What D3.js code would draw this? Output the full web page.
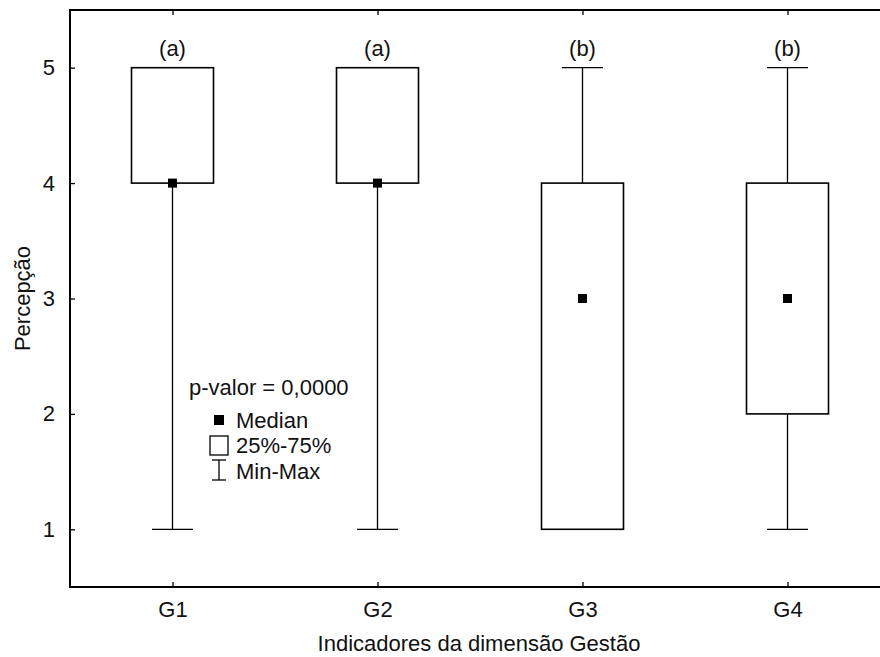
<!DOCTYPE html>
<html>
<head>
<meta charset="utf-8">
<script src="https://cdn.jsdelivr.net/npm/d3@7"></script>
<style>
  body { margin: 0; background: #fff; }
  svg { display: block; }
  text { font-family: "Liberation Sans", Arial, sans-serif; fill: #111; }
</style>
</head>
<body>
<div id="root"></div>
<script>
// data
const groups = ["G1", "G2", "G3", "G4"];
const minVals = [1, 1, 1, 1];
const q1Vals = [4, 4, 1, 2];
const medianVals = [4, 4, 3, 3];
const q3Vals = [5, 5, 4, 4];
const maxVals = [5, 5, 5, 5];
const letters = ["(a)", "(a)", "(b)", "(b)"];
const yTicks = [1, 2, 3, 4, 5];

const W = 880, H = 657;
const margin = { top: 10, right: -10, bottom: 70, left: 70 };
const width = W - margin.left - margin.right;
const height = H - margin.top - margin.bottom;
const fs = 22;

const svg = d3.select("#root").append("svg")
  .attr("width", W)
  .attr("height", H);

const g = svg.append("g")
  .attr("transform", "translate(" + margin.left + "," + margin.top + ")");

const x = d3.scalePoint()
  .domain(groups)
  .range([0, width])
  .padding(0.5);

const y = d3.scaleLinear()
  .domain([0.5, 5.5])
  .range([height, 0]);

const boxW = 82, capW = 41, medSize = 9;

const data = groups.map((name, i) => ({
  name,
  min: minVals[i], q1: q1Vals[i], med: medianVals[i], q3: q3Vals[i], max: maxVals[i],
  letter: letters[i]
}));

// axes with inward ticks
const yAxis = g.append("g")
  .call(d3.axisLeft(y).tickValues(yTicks).tickSize(-5).tickPadding(15).tickFormat(d3.format("d")));
const xAxis = g.append("g")
  .attr("transform", "translate(0," + height + ")")
  .call(d3.axisBottom(x).tickSize(-5).tickPadding(14));
const topAxis = g.append("g")
  .call(d3.axisTop(x).tickSize(-5).tickFormat(""));

[yAxis, xAxis, topAxis].forEach(a => {
  a.select(".domain").remove();
  a.selectAll("line").attr("stroke", "#000").attr("stroke-width", 1.3);
  a.selectAll("text").attr("font-size", fs).attr("fill", "#111")
    .attr("font-family", '"Liberation Sans", Arial, sans-serif');
});

// frame
g.append("rect")
  .attr("x", 0).attr("y", 0)
  .attr("width", width).attr("height", height)
  .attr("fill", "none").attr("stroke", "#000").attr("stroke-width", 2);

const box = g.selectAll(".box").data(data).enter().append("g")
  .attr("class", "box")
  .attr("transform", d => "translate(" + x(d.name) + ",0)");

// whiskers
box.append("line")
  .attr("x1", 0).attr("x2", 0)
  .attr("y1", d => y(d.max)).attr("y2", d => y(d.min))
  .attr("stroke", "#000").attr("stroke-width", 1.3);
box.append("line")
  .attr("x1", -capW / 2).attr("x2", capW / 2)
  .attr("y1", d => y(d.max)).attr("y2", d => y(d.max))
  .attr("stroke", "#000").attr("stroke-width", 1.3);
box.append("line")
  .attr("x1", -capW / 2).attr("x2", capW / 2)
  .attr("y1", d => y(d.min)).attr("y2", d => y(d.min))
  .attr("stroke", "#000").attr("stroke-width", 1.3);

box.append("rect")
  .attr("x", -boxW / 2).attr("width", boxW)
  .attr("y", d => y(d.q3)).attr("height", d => y(d.q1) - y(d.q3))
  .attr("fill", "#fff").attr("stroke", "#000").attr("stroke-width", 1.6);

box.append("rect")
  .attr("x", -medSize / 2).attr("width", medSize)
  .attr("y", d => y(d.med) - medSize / 2).attr("height", medSize)
  .attr("fill", "#000");

box.append("text")
  .attr("x", 0).attr("y", d => y(d.max) - 12)
  .attr("text-anchor", "middle")
  .attr("font-size", fs)
  .text(d => d.letter);

// axis titles
svg.append("text")
  .attr("x", 479).attr("y", 651)
  .attr("text-anchor", "middle")
  .attr("font-size", fs)
  .text("Indicadores da dimensão Gestão");
svg.append("text")
  .attr("transform", "translate(30," + (margin.top + height / 2) + ") rotate(-90)")
  .attr("text-anchor", "middle")
  .attr("font-size", fs)
  .text("Percepção");

// legend
const lg = svg.append("g");
lg.append("text").attr("x", 189).attr("y", 395).attr("font-size", fs).text("p-valor = 0,0000");
lg.append("rect").attr("x", 214).attr("y", 415).attr("width", 10).attr("height", 10).attr("fill", "#000");
lg.append("text").attr("x", 236).attr("y", 428).attr("font-size", fs).text("Median");
lg.append("rect").attr("x", 210).attr("y", 436).attr("width", 18).attr("height", 19)
  .attr("fill", "#fff").attr("stroke", "#000").attr("stroke-width", 1.3);
lg.append("text").attr("x", 236).attr("y", 453).attr("font-size", fs).text("25%-75%");
lg.append("line").attr("x1", 219).attr("x2", 219).attr("y1", 460).attr("y2", 480).attr("stroke", "#000").attr("stroke-width", 1.3);
lg.append("line").attr("x1", 212).attr("x2", 226).attr("y1", 460).attr("y2", 460).attr("stroke", "#000").attr("stroke-width", 1.3);
lg.append("line").attr("x1", 212).attr("x2", 226).attr("y1", 480).attr("y2", 480).attr("stroke", "#000").attr("stroke-width", 1.3);
lg.append("text").attr("x", 236).attr("y", 479).attr("font-size", fs).text("Min-Max");
</script>
</body>
</html>
